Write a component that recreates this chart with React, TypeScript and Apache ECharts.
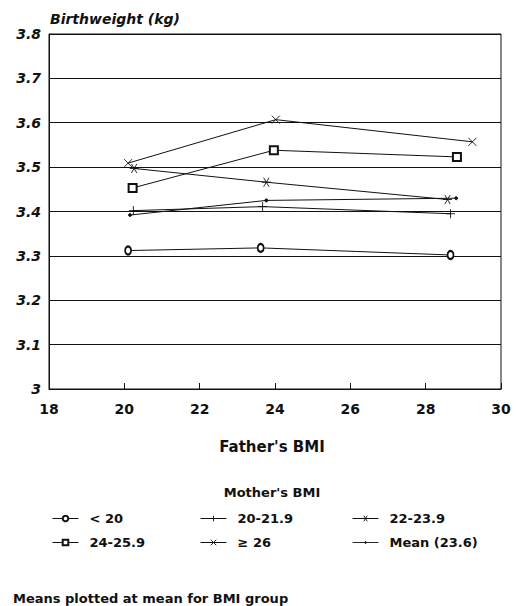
import React, { useEffect, useRef } from "react";
import * as echarts from "echarts";

const xTicks = [18, 20, 22, 24, 26, 28, 30];
const seriesNames = ["< 20", "20-21.9", "22-23.9", "24-25.9", "≥ 26", "Mean (23.6)"];
const lt20 = [[20.1, 3.312], [23.62, 3.318], [28.66, 3.302]];
const m20to21 = [[20.24, 3.402], [23.67, 3.411], [28.66, 3.395]];
const m22to23 = [[20.26, 3.497], [23.77, 3.466], [28.58, 3.427]];
const m24to25 = [[20.22, 3.453], [23.97, 3.538], [28.83, 3.523]];
const ge26 = [[20.1, 3.509], [24.02, 3.607], [29.24, 3.557]];
const meanLine = [[20.15, 3.392], [23.77, 3.425], [28.81, 3.43]];

const FONT = "'DejaVu Sans', 'Liberation Sans', Arial, sans-serif";

const PLUS = "path://M0,5L10,5M5,0L5,10";
const CROSS = "path://M0,0L10,10M10,0L0,10";
const STAR = "path://M0,5L10,5M2,1L8,9M8,1L2,9";
const MEAN_ICON = "path://M0,5L26,5M12.5,4.2L13.5,4.2L13.5,5.8L12.5,5.8Z";

export default function App() {
  const ref = useRef<HTMLDivElement>(null);
  useEffect(() => {
    document.body.style.margin = "0";
    const chart = echarts.init(ref.current!, null, { renderer: "svg" });
    const datasets = [lt20, m20to21, m22to23, m24to25, ge26, meanLine];
    const symbols: any[] = ["emptyCircle", PLUS, STAR, "emptyRect", CROSS, "circle"];
    const sizes: any[] = [[6, 8], 9, 9, 8, 8, 3];
    const series = datasets.map((d, i) => ({
      name: seriesNames[i],
      type: "line",
      data: d,
      symbol: symbols[i],
      symbolSize: sizes[i],
      showSymbol: true,
      lineStyle: { color: "#111", width: 1 },
      itemStyle: { color: "#111", borderColor: "#111", borderWidth: 0.9 },
      z: 5,
    }));
    const legendBase = {
      orient: "vertical" as const,
      itemWidth: 26,
      itemHeight: 7,
      itemGap: 11,
      selectedMode: false,
      lineStyle: { width: 1, color: "#111" },
      itemStyle: { borderWidth: 0.9 },
      textStyle: { fontFamily: FONT, fontSize: 13, fontWeight: "bold", color: "#111", padding: [0, 0, 0, 6] },
    };
    chart.setOption({
      animation: false,
      backgroundColor: "#fff",
      grid: { left: 49, top: 34, right: 15, bottom: 217, show: true, borderColor: "#111", borderWidth: 1, backgroundColor: "transparent" },
      xAxis: {
        type: "value",
        min: xTicks[0],
        max: xTicks[xTicks.length - 1],
        interval: 2,
        axisLine: { lineStyle: { color: "#111", width: 1 } },
        axisTick: { show: true, inside: true, length: 6, lineStyle: { color: "#111" } },
        splitLine: { show: false },
        axisLabel: { margin: 13, fontFamily: FONT, fontSize: 14, fontWeight: "bold", color: "#111" },
      },
      yAxis: {
        type: "value",
        min: 3,
        max: 3.8,
        interval: 0.1,
        axisLine: { show: true, lineStyle: { color: "#111" } },
        axisTick: { show: false },
        splitLine: { show: true, lineStyle: { color: "#111", width: 1 } },
        axisLabel: { margin: 8, fontFamily: FONT, fontSize: 14, fontStyle: "italic", fontWeight: "bold", color: "#111" },
      },
      legend: [
        { ...legendBase, left: 47, top: 507, data: [seriesNames[0], seriesNames[3]] },
        { ...legendBase, left: 195, top: 507, data: [seriesNames[1], seriesNames[4]] },
        { ...legendBase, left: 347, top: 507, data: [seriesNames[2], { name: seriesNames[5], icon: MEAN_ICON }] },
      ],
      graphic: [
        { type: "text", left: 50, top: 12, style: { text: "Birthweight (kg)", font: `italic bold 14px ${FONT}`, fill: "#111" } },
        { type: "text", x: 272, y: 447, style: { text: "Father's BMI", font: `bold 15px ${FONT}`, fill: "#111", align: "center", verticalAlign: "middle" } },
        { type: "text", x: 272, y: 492, style: { text: "Mother's BMI", font: `bold 13px ${FONT}`, fill: "#111", align: "center", verticalAlign: "middle" } },
        { type: "text", x: 13, y: 598, style: { text: "Means plotted at mean for BMI group", font: `bold 13px ${FONT}`, fill: "#111", align: "left", verticalAlign: "middle" } },
      ],
      series,
    });
    return () => chart.dispose();
  }, []);
  return <div ref={ref} style={{ width: 516, height: 606 }} />;
}
